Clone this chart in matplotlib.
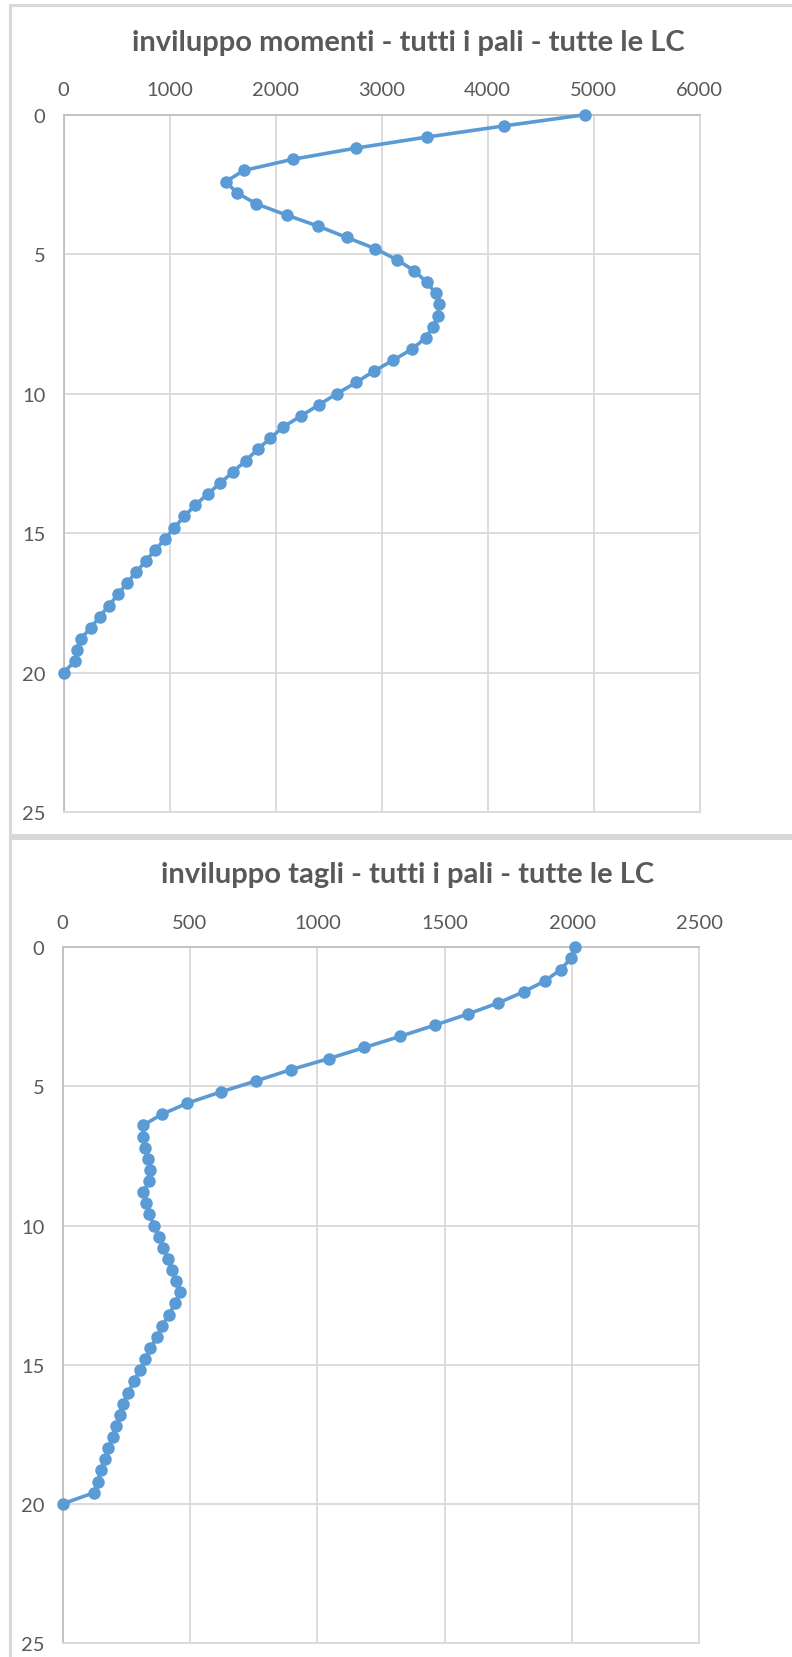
import numpy as np
import matplotlib
matplotlib.use("Agg")
import matplotlib.pyplot as plt
from matplotlib.patches import Rectangle

# depth along the pile (m), one point every 0.4 m
depth = np.round(np.arange(0, 20.01, 0.4), 1)

# envelope of bending moments
moments = [4920, 4160, 3430, 2755, 2160, 1700, 1530, 1635, 1820, 2105,
           2405, 2670, 2940, 3145, 3310, 3425, 3510, 3545, 3530, 3490,
           3415, 3290, 3110, 2925, 2760, 2580, 2410, 2240, 2070, 1950,
           1830, 1720, 1600, 1480, 1360, 1240, 1140, 1045, 960, 865,
           775, 685, 595, 515, 425, 340, 255, 160, 125, 105, 0]

# envelope of shear forces
shears = [2010, 1995, 1955, 1895, 1810, 1710, 1590, 1460, 1325, 1185,
          1045, 895, 760, 620, 490, 390, 315, 317, 325, 337,
          343, 341, 315, 329, 341, 359, 380, 395, 413, 431,
          446, 460, 442, 417, 391, 371, 345, 325, 302, 280,
          258, 236, 224, 208, 196, 179, 167, 149, 137, 123, 0]

titles = ["inviluppo momenti - tutti i pali - tutte le LC",
          "inviluppo tagli - tutti i pali - tutte le LC"]
x_ticks = [np.arange(0, 6001, 1000), np.arange(0, 2501, 500)]
y_ticks = np.arange(0, 26, 5)

W, H = 792, 1658
BLUE = "#5B9BD5"
GRID = "#D9D9D9"
TXT = "#595959"

plt.rcParams["font.family"] = ["Lato", "DejaVu Sans"]

fig = plt.figure(figsize=(W / 100, H / 100), dpi=100)
fig.patch.set_facecolor("white")

# chart area frames
for (top, bottom) in [(6, 836), (839, H + 5)]:
    fig.patches.append(Rectangle((10 / W, 1 - bottom / H), (W + 10) / W,
                                 (bottom - top) / H, transform=fig.transFigure,
                                 facecolor="white", edgecolor=GRID, lw=2.2,
                                 zorder=-5))

# axes boxes in pixels: left, right, top, bottom ; title centre y
boxes = [(63.6, 699.5, 115.7, 813.0, 43),
         (62.6, 699.5, 948.3, 1644.0, 875)]

for i, vals in enumerate([moments, shears]):
    l, r, t, b, ty = boxes[i]
    ax = fig.add_axes([l / W, 1 - b / H, (r - l) / W, (b - t) / H], zorder=2)
    ax.set_facecolor("none")
    ax.plot(vals, depth, color=BLUE, lw=2.6, marker="o", ms=8,
            clip_on=False, zorder=3)
    ax.set_xlim(x_ticks[i][0], x_ticks[i][-1])
    ax.set_ylim(25, 0)
    ax.set_xticks(x_ticks[i])
    ax.set_yticks(y_ticks)
    ax.xaxis.tick_top()
    ax.tick_params(length=0, labelsize=14.5, labelcolor=TXT)
    ax.tick_params(axis="x", pad=12)
    ax.tick_params(axis="y", pad=13)
    ax.grid(True, color=GRID, lw=1.3)
    ax.set_axisbelow(True)
    for s in ["right", "bottom"]:
        ax.spines[s].set_color(GRID)
        ax.spines[s].set_linewidth(1.3)
    for s in ["top", "left"]:
        ax.spines[s].set_color("#BFBFBF")
        ax.spines[s].set_linewidth(1.3)
    fig.text(408 / W, 1 - ty / H, titles[i], ha="center", va="center",
             fontsize=21, fontweight="bold", color=TXT, zorder=3)

fig.savefig("out.png", dpi=100)
